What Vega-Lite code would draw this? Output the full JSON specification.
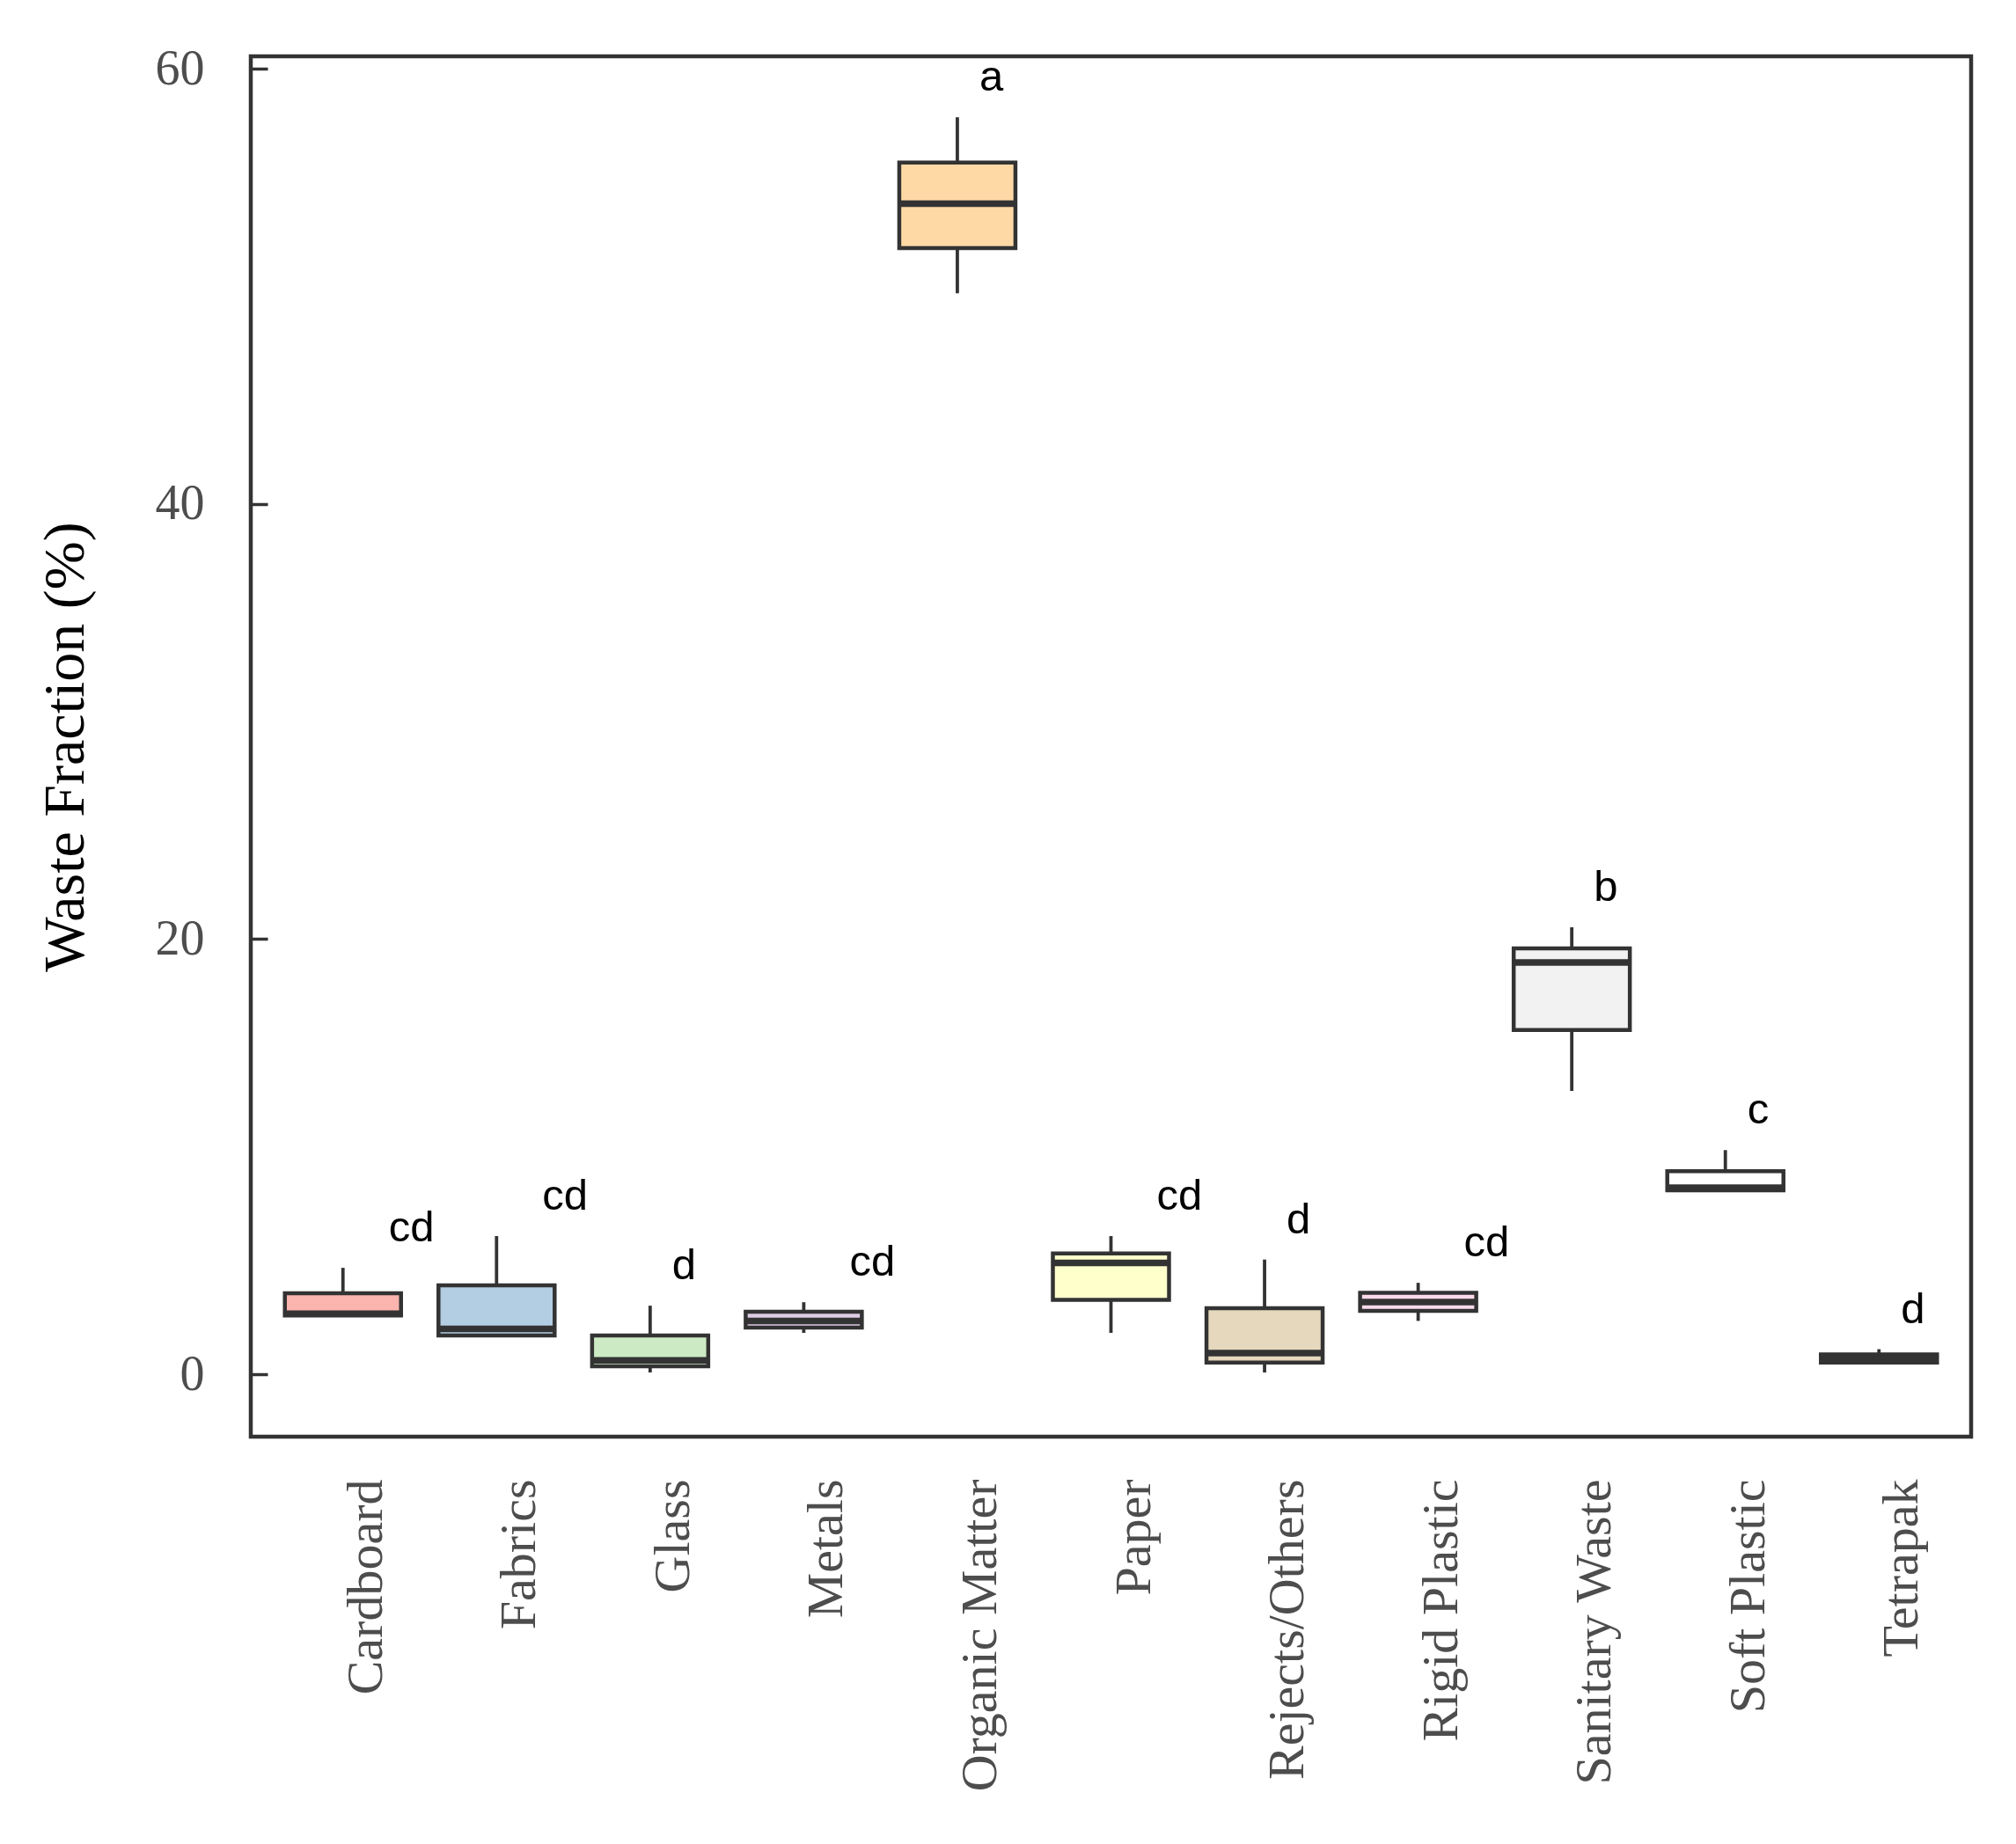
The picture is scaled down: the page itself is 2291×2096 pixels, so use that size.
{
  "$schema": "https://vega.github.io/schema/vega-lite/v6.json",
  "width": 1955,
  "height": 1569,
  "autosize": {"type": "none"},
  "padding": {"left": 285, "top": 64, "right": 51, "bottom": 463},
  "background": "white",
  "config": {
    "view": {"stroke": "#333333", "strokeWidth": 4.5},
    "axis": {"grid": false, "domain": false}
  },
  "data": {
    "values": [
      {"fraction": "Cardboard", "lower": 2.70, "q1": 2.70, "median": 2.78, "q3": 3.72, "upper": 4.89, "label": "cd"},
      {"fraction": "Fabrics", "lower": 1.78, "q1": 1.78, "median": 2.08, "q3": 4.08, "upper": 6.35, "label": "cd"},
      {"fraction": "Glass", "lower": 0.08, "q1": 0.36, "median": 0.64, "q3": 1.78, "upper": 3.15, "label": "d"},
      {"fraction": "Metals", "lower": 1.90, "q1": 2.14, "median": 2.45, "q3": 2.87, "upper": 3.31, "label": "cd"},
      {"fraction": "Organic Matter", "lower": 49.68, "q1": 51.76, "median": 53.80, "q3": 55.69, "upper": 57.77, "label": "a"},
      {"fraction": "Paper", "lower": 1.90, "q1": 3.42, "median": 5.12, "q3": 5.55, "upper": 6.35, "label": "cd"},
      {"fraction": "Rejects/Others", "lower": 0.08, "q1": 0.54, "median": 0.97, "q3": 3.03, "upper": 5.27, "label": "d"},
      {"fraction": "Rigid Plastic", "lower": 2.45, "q1": 2.91, "median": 3.32, "q3": 3.74, "upper": 4.20, "label": "cd"},
      {"fraction": "Sanitary Waste", "lower": 13.02, "q1": 15.82, "median": 18.92, "q3": 19.57, "upper": 20.54, "label": "b"},
      {"fraction": "Soft Plastic", "lower": 8.45, "q1": 8.45, "median": 8.57, "q3": 9.33, "upper": 10.30, "label": "c"},
      {"fraction": "Tetrapak", "lower": 0.54, "q1": 0.54, "median": 0.73, "q3": 0.91, "upper": 1.15, "label": "d"}
    ]
  },
  "encoding": {
    "x": {
      "field": "fraction",
      "type": "nominal",
      "sort": null,
      "scale": {"paddingInner": 0.2, "paddingOuter": 0.2},
      "axis": {
        "title": null,
        "ticks": false,
        "labelAngle": -90,
        "labelPadding": 48,
        "labelFont": "Liberation Serif",
        "labelFontSize": 58,
        "labelColor": "#4d4d4d",
        "labelLimit": 0,
        "labelOffset": 27
      }
    }
  },
  "layer": [
    {
      "mark": {"type": "rule", "color": "#333333", "strokeWidth": 3.8},
      "encoding": {
        "y": {
          "field": "lower",
          "type": "quantitative",
          "scale": {"domain": [-2.87, 60.57], "nice": false, "zero": false},
          "axis": {
            "title": "Waste Fraction (%)",
            "values": [0, 20, 40, 60],
            "ticks": false,
            "grid": true,
            "gridColor": "#333333",
            "gridWidth": 3.5,
            "gridOpacity": 1,
            "gridDash": [19, 4000],
            "labelPadding": 53,
            "labelFont": "Liberation Serif",
            "labelFontSize": 56,
            "labelColor": "#4d4d4d",
            "labelBaseline": "middle",
            "titleFont": "Liberation Serif",
            "titleFontSize": 66,
            "titleFontWeight": "normal",
            "titleColor": "#000000",
            "titleAngle": -90,
            "titleAlign": "center",
            "titleBaseline": "bottom",
            "titleX": -177,
            "titleY": 784.5
          }
        },
        "y2": {"field": "upper"}
      }
    },
    {
      "mark": {"type": "bar", "width": 132, "stroke": "#333333", "strokeWidth": 4.5},
      "encoding": {
        "y": {"field": "q1", "type": "quantitative", "title": "Waste Fraction (%)"},
        "y2": {"field": "q3"},
        "color": {
          "field": "fraction",
          "type": "nominal",
          "sort": null,
          "legend": null,
          "scale": {
            "domain": ["Cardboard", "Fabrics", "Glass", "Metals", "Organic Matter", "Paper", "Rejects/Others", "Rigid Plastic", "Sanitary Waste", "Soft Plastic", "Tetrapak"],
            "range": ["#FBB4AE", "#B3CDE3", "#CCEBC5", "#DECBE4", "#FED9A6", "#FFFFCC", "#E5D8BD", "#FDDAEC", "#F2F2F2", "#FFFFFF", "#333333"]
          }
        }
      }
    },
    {
      "mark": {"type": "tick", "orient": "horizontal", "size": 132, "thickness": 7.5, "color": "#333333", "opacity": 1},
      "encoding": {
        "y": {"field": "median", "type": "quantitative", "title": "Waste Fraction (%)"}
      }
    },
    {
      "transform": [{"filter": "length(datum.label) == 2"}],
      "mark": {"type": "text", "align": "left", "baseline": "alphabetic", "dx": 52, "dy": -30, "font": "Liberation Sans", "fontSize": 49, "color": "#000000"},
      "encoding": {
        "y": {"field": "upper", "type": "quantitative", "title": "Waste Fraction (%)"},
        "text": {"field": "label"}
      }
    },
    {
      "transform": [{"filter": "length(datum.label) == 1"}],
      "mark": {"type": "text", "align": "left", "baseline": "alphabetic", "dx": 25, "dy": -30, "font": "Liberation Sans", "fontSize": 49, "color": "#000000"},
      "encoding": {
        "y": {"field": "upper", "type": "quantitative", "title": "Waste Fraction (%)"},
        "text": {"field": "label"}
      }
    }
  ]
}
